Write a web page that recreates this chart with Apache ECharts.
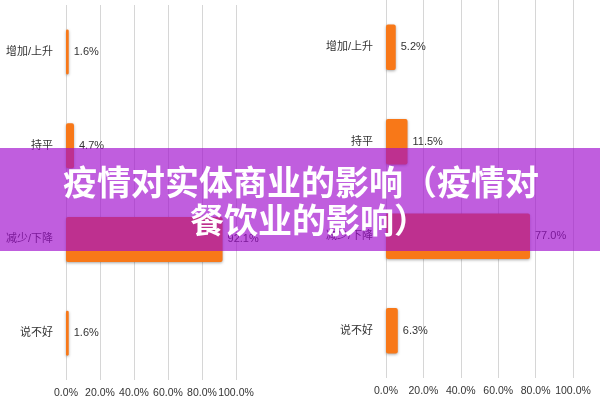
<!DOCTYPE html>
<html>
<head>
<meta charset="utf-8">
<script src="https://cdn.jsdelivr.net/npm/echarts@6/dist/echarts.min.js"></script>
<style>html,body{margin:0;padding:0;background:#fff}#c{width:600px;height:400px}</style>
</head>
<body>
<div id="c"></div>
<script>
var categories = ['增加/上升', '持平', '减少/下降', '说不好'];
var retailValues = [1.6, 4.7, 92.1, 1.6];
var diningValues = [5.2, 11.5, 77.0, 6.3];
var xTicks = [0, 20, 40, 60, 80, 100];
var titleLine1 = '疫情对实体商业的影响（疫情对';
var titleLine2 = '餐饮业的影响）';

var chart = echarts.init(document.getElementById('c'));
var font = 'Liberation Sans, "Noto Sans CJK SC", sans-serif';
function xAxis(idx) {
  return {
    gridIndex: idx, type: 'value', min: xTicks[0], max: xTicks[xTicks.length - 1], interval: 20,
    axisLine: {show: false}, axisTick: {show: false},
    splitLine: {show: true, lineStyle: {color: '#d6d6d6', width: 1}},
    axisLabel: {margin: 8, fontSize: 10.5, color: '#333', fontFamily: font, interval: 0,
      showMinLabel: true, showMaxLabel: true, hideOverlap: false,
      formatter: function (v) { return v.toFixed(1) + '%'; }}
  };
}
function yAxis(idx) {
  return {
    gridIndex: idx, type: 'category', data: categories, inverse: true,
    axisLine: {show: false}, axisTick: {show: false},
    axisLabel: {margin: 13, fontSize: 11, color: '#333', fontFamily: font}
  };
}
function bars(idx, data) {
  return {
    type: 'bar', xAxisIndex: idx, yAxisIndex: idx, data: data, barWidth: '48%',
    itemStyle: {color: '#f87818', borderRadius: 2, shadowBlur: 3, shadowColor: 'rgba(0,0,0,0.35)', shadowOffsetY: 1},
    label: {show: true, position: 'right', distance: 5, fontSize: 11, color: '#333', fontFamily: font,
      formatter: function (p) { return p.value.toFixed(1) + '%'; }},
    animation: false
  };
}
chart.setOption({
  animation: false,
  grid: [
    {left: 66, right: 364, top: 5, bottom: 20},
    {left: 386, right: 27, top: -5, bottom: 22}
  ],
  xAxis: [xAxis(0), xAxis(1)],
  yAxis: [yAxis(0), yAxis(1)],
  series: [bars(0, retailValues), bars(1, diningValues)],
  graphic: [
    {type: 'rect', left: 0, top: 148, shape: {width: 600, height: 103}, z: 100,
      style: {fill: 'rgba(160,10,205,0.66)'}},
    {type: 'text', x: 63, y: 182, z: 101,
      style: {text: titleLine1, fill: '#fff', font: 'bold 34px "Noto Sans CJK SC"', textAlign: 'left', textVerticalAlign: 'middle',
        shadowBlur: 2, shadowColor: 'rgba(0,0,0,0.25)'}},
    {type: 'text', x: 190, y: 220, z: 101,
      style: {text: titleLine2, fill: '#fff', font: 'bold 34px "Noto Sans CJK SC"', textAlign: 'left', textVerticalAlign: 'middle',
        shadowBlur: 2, shadowColor: 'rgba(0,0,0,0.25)'}}
  ]
});
</script>
</body>
</html>
